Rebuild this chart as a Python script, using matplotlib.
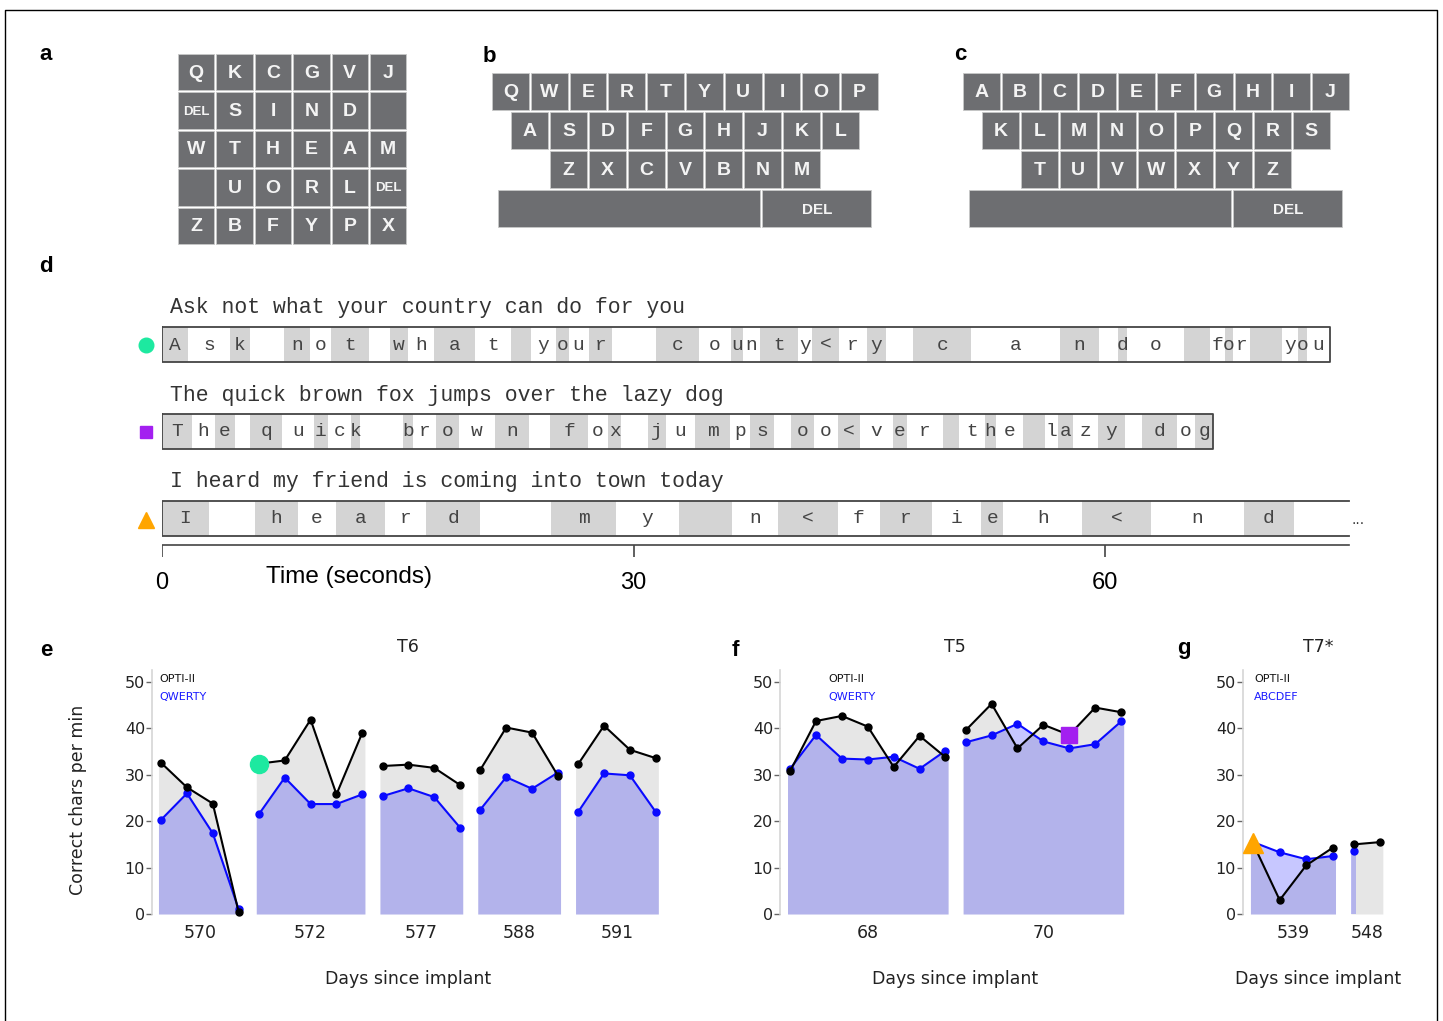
import numpy as np
import matplotlib.pyplot as plt
from matplotlib.patches import Rectangle

plt.rcParams['font.family'] = 'DejaVu Sans'

W, H = 1443, 1021

# ---- keyboards (panels a-c) ----
opti_keys = [
    ["Q", "K", "C", "G", "V", "J"],
    ["DEL", "S", "I", "N", "D", ""],
    ["W", "T", "H", "E", "A", "M"],
    ["", "U", "O", "R", "L", "DEL"],
    ["Z", "B", "F", "Y", "P", "X"],
]
qwerty_keys = ["QWERTYUIOP", "ASDFGHJKL", "ZXCVBNM"]
abc_keys = ["ABCDEFGHIJ", "KLMNOPQRS", "TUVWXYZ"]

# ---- panel d: prompts, typed symbols and the time (s) each selection ended ----
prompts = ["Ask not what your country can do for you",
           "The quick brown fox jumps over the lazy dog",
           "I heard my friend is coming into town today"]
typed = ["Ask not what your county<ry can do for you",
         "The quick brown fox jumps oo<ver the lazy dog",
         "I heard my n<frieh<nd "]
ends1 = [1.71, 4.32, 5.65, 7.79, 9.42, 10.76, 13.19, 14.50, 15.66, 17.34, 19.93, 22.24,
         23.5, 25.07, 25.88, 27.14, 28.65, 31.41, 34.17, 36.20, 36.93, 38.05, 40.44, 41.36,
         43.06, 44.82, 46.03, 47.80, 51.46, 57.12, 59.60, 60.77, 61.38, 64.97, 66.62, 67.58,
         68.14, 69.19, 71.20, 72.27, 72.82, 74.26]
ends2 = [1.93, 3.39, 4.65, 5.65, 7.65, 9.68, 10.55, 12.04, 12.64, 15.33, 15.98, 17.44,
         18.91, 21.19, 23.36, 24.69, 27.11, 28.38, 29.21, 30.92, 32.07, 33.91, 36.13, 37.41,
         38.94, 40.01, 41.45, 43.00, 44.37, 46.49, 47.38, 49.67, 50.69, 52.34, 53.04, 54.76,
         56.16, 56.99, 57.94, 59.53, 61.25, 62.33, 64.55, 65.70, 66.84]
ends3 = [3.01, 5.91, 8.67, 11.06, 14.20, 16.83, 20.24, 24.76, 28.89, 32.89, 36.29, 39.19,
         43.00, 45.67, 48.98, 52.09, 53.52, 58.54, 62.90, 68.81, 71.99, 75.49]
time_ticks = [0, 30, 60]

# ---- panels e-g: correct characters per minute ----
t6_days = ["570", "572", "577", "588", "591"]
t6_opti = [[32.6, 27.3, 23.8, 0.4], [32.4, 33.1, 41.9, 25.8, 39.1], [31.9, 32.2, 31.5, 27.8],
           [31.1, 40.2, 39.1, 29.8], [32.3, 40.6, 35.4, 33.6]]
t6_qwerty = [[20.3, 26.0, 17.4, 1.0], [21.5, 29.4, 23.7, 23.7, 25.8], [25.4, 27.1, 25.2, 18.6],
             [22.5, 29.5, 27.0, 30.5], [22.0, 30.3, 29.9, 22.0]]
t5_days = ["68", "70"]
t5_opti = [[30.8, 41.6, 42.7, 40.4, 31.7, 38.4, 33.8], [39.6, 45.3, 35.7, 40.8, 38.6, 44.5, 43.5]]
t5_qwerty = [[31.3, 38.6, 33.5, 33.3, 33.9, 31.3, 35.2], [37.0, 38.5, 41.0, 37.2, 35.7, 36.6, 41.5]]
t7_days = ["539", "548"]
t7_opti = [[15.2, 3.0, 10.5, 14.3], [15.0, 15.5]]
t7_abc = [[15.5, 13.3, 11.8, 12.5], [13.6]]

KEY = '#6d6e71'
GREEN, PURPLE, ORANGE = '#1de9a0', '#a31ff0', '#ffa500'

fig = plt.figure(figsize=(W / 100, H / 100), dpi=100)


def px_axes(x0, y0, x1, y1):
    return fig.add_axes([x0 / W, 1 - y1 / H, (x1 - x0) / W, (y1 - y0) / H])


bg = px_axes(0, 0, W, H)
bg.set_xlim(0, W)
bg.set_ylim(H, 0)
bg.axis('off')
bg.plot([5, 5, 1437, 1437], [1021, 10, 10, 1021], color='black', lw=1)


def key(x, y, w, h, label, size=14):
    bg.add_patch(Rectangle((x, y), w, h, facecolor=KEY, edgecolor='#c8c8c8', lw=0.6))
    bg.text(x + w / 2, y + h / 2 + 1, label, color='#f4f4f4', fontsize=size,
            fontweight='bold', family='Liberation Sans', ha='center', va='center')


# panel a
for r, row in enumerate(opti_keys):
    for c, lab in enumerate(row):
        key(178 + c * 38.4, 54 + r * 38.4, 36.4, 36.4, lab, 9.5 if lab == "DEL" else 14)


# panels b, c
def keyboard(rows, x0, y0, px=38.8, py=39.0):
    for r, (row, off) in enumerate(zip(rows, [0, 0.5, 1.5])):
        for c, lab in enumerate(row):
            key(x0 + (off + c) * px, y0 + r * py, px - 2, py - 2, lab)
    key(x0 + 0.15 * px, y0 + 3 * py, 6.75 * px, py - 2, "")
    key(x0 + 6.97 * px, y0 + 3 * py, 2.81 * px, py - 2, "DEL", 11)


keyboard(qwerty_keys, 492, 73)
keyboard(abc_keys, 963, 73)

# panel letters
for lab, x, y in [("a", 46, 55), ("b", 489, 57), ("c", 960, 55), ("d", 46, 266),
                  ("e", 46, 650), ("f", 735, 650), ("g", 1184, 648)]:
    fig.text(x / W, 1 - y / H, lab, fontsize=16, fontweight='bold', family='Liberation Sans',
             ha='center', va='center')

# ---- panel d ----
PXS = 15.73
axd = px_axes(161.6, 290, 161.6 + 80 * PXS, 600)
axd.set_xlim(0, 80)
axd.set_ylim(600, 290)
axd.axis('off')
row_y = [345, 432, 518.5]
prompt_y = [308, 395, 481]
BOX_H = 35
for i, (seq, ends) in enumerate(zip(typed, [ends1, ends2, ends3])):
    yc = row_y[i]
    starts = [0] + ends[:-1]
    shades = ['#d4d4d4' if k % 2 == 0 else 'white' for k in range(len(ends))]
    axd.barh(yc, np.diff([0] + ends), left=starts, height=BOX_H, color=shades, lw=0)
    for ch, s, e in zip(seq, starts, ends):
        axd.text((s + e) / 2, yc, ch, family='Liberation Mono', fontsize=14, color='#444',
                 ha='center', va='center')
    top, bot = yc - BOX_H / 2, yc + BOX_H / 2
    if i < 2:
        axd.plot([0, ends[-1], ends[-1], 0, 0], [top, top, bot, bot, top], color='#444', lw=1.3)
    else:
        axd.plot([ends[-1], 0, 0, ends[-1]], [top, top, bot, bot], color='#444', lw=1.3)
        axd.text(ends[-1] + 0.6, yc + 1, '...', fontsize=10, color='#333', ha='center',
                 va='center')
    axd.text(0.53, prompt_y[i], prompts[i], family='Liberation Mono', fontsize=15.5,
             color='#333', ha='left', va='center')

axd.plot(-1.0, row_y[0], 'o', color=GREEN, ms=10.5, clip_on=False)
axd.plot(-1.0, row_y[1], 's', color=PURPLE, ms=8.5, clip_on=False)
axd.plot(-1.0, row_y[2] + 2, '^', color=ORANGE, ms=11, clip_on=False)

axd.plot([0, ends3[-1]], [545, 545], color='#444', lw=1.2)
axd.vlines(time_ticks, 545, 557, color='#444', lw=1.2)
for t in time_ticks:
    axd.text(t, 583, str(t), family='Liberation Sans', fontsize=17, ha='center', va='center')
axd.text(11.9, 577, 'Time (seconds)', family='Liberation Sans', fontsize=17.5,
         ha='center', va='center')

# ---- panels e-g ----
GAP = 0.78
EXT = 0.1


def fill(ax, x, y, **kw):
    xe = np.r_[x[0] - EXT, x, x[-1] + EXT]
    ye = np.r_[y[0], y, y[-1]]
    ax.fill_between(xe, 0, ye, lw=0, **kw)


def speed_panel(rect, xlim, days, opti, other, mark):
    ax = px_axes(*rect)
    ax.set_facecolor('none')
    pos, centers, starts = 0.0, [], []
    for yo, yb in zip(opti, other):
        n = max(len(yo), len(yb))
        fill(ax, pos + np.arange(len(yo)), yo, color='#e6e6e6')
        fill(ax, pos + np.arange(len(yb)), yb, color='blue', alpha=0.22)
        starts.append(pos)
        centers.append(pos + (n - 1) / 2)
        pos += n - 1 + GAP
    for x0, yo, yb in zip(starts, opti, other):
        ax.plot(x0 + np.arange(len(yb)), yb, '-o', color='#0a0aff', lw=1.5, ms=5, clip_on=False)
        ax.plot(x0 + np.arange(len(yo)), yo, '-o', color='black', lw=1.5, ms=5, clip_on=False)
    g, k, m, col, ms = mark
    ax.plot(starts[g] + k, opti[g][k], m, color=col, ms=ms, clip_on=False, zorder=5)
    ax.set_xlim(*xlim)
    ax.set_ylim(0, 52.6)
    ax.set_yticks([0, 10, 20, 30, 40, 50])
    ax.set_xticks(centers)
    ax.set_xticklabels(days)
    ax.tick_params(axis='x', length=0, pad=7, labelsize=12.5, labelcolor='#222')
    ax.tick_params(axis='y', length=4, width=1, color='#666', pad=1, labelsize=11.5,
                   labelcolor='#222')
    for s in ['top', 'right', 'bottom']:
        ax.spines[s].set_visible(False)
    ax.spines['left'].set_color('#d6d6d6')
    ax.spines['left'].set_linewidth(1.2)
    return ax


speed_panel((152, 670, 663, 914), (-0.35, 19.4), t6_days, t6_opti, t6_qwerty,
            (1, 0, 'o', GREEN, 13))
speed_panel((780, 670, 1126, 914), (-0.39, 12.97), t5_days, t5_opti, t5_qwerty,
            (1, 4, 's', PURPLE, 11.5))
speed_panel((1243, 670, 1390, 914), (-0.38, 5.15), t7_days, t7_opti, t7_abc,
            (0, 0, '^', ORANGE, 15))

for lx, name, tx, title in [(159, "QWERTY", 408, "T6"), (828, "QWERTY", 955, "T5"),
                            (1254, "ABCDEF", 1318, "T7*")]:
    fig.text(lx / W, 1 - 679 / H, "OPTI-II", fontsize=8, color='#111', va='center')
    fig.text(lx / W, 1 - 697 / H, name, fontsize=8, color='#1a1aff', va='center')
    fig.text(tx / W, 1 - 647 / H, title, fontsize=12.5, color='#222', ha='center', va='center')
    fig.text(tx / W, 1 - 979 / H, "Days since implant", fontsize=12.5, color='#222',
             ha='center', va='center')

fig.text(78 / W, 1 - 800 / H, "Correct chars per min", rotation=90, fontsize=12.5,
         color='#222', ha='center', va='center')

fig.savefig('out.png', dpi=100)
